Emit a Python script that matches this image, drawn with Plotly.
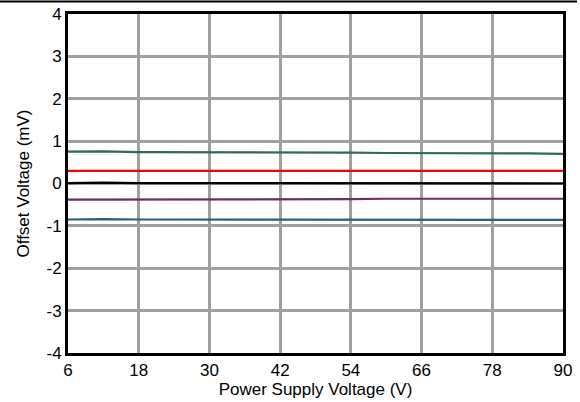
import plotly.graph_objects as go

supply_v = [6, 12, 18, 24, 30, 36, 42, 48, 54, 60, 66, 72, 78, 84, 90]
green = [0.75, 0.76, 0.74, 0.74, 0.74, 0.74, 0.73, 0.73, 0.73, 0.72, 0.72, 0.72, 0.71, 0.71, 0.70]
red = [0.30, 0.30, 0.30, 0.30, 0.30, 0.30, 0.30, 0.30, 0.30, 0.30, 0.30, 0.30, 0.30, 0.30, 0.30]
black = [0.01, 0.02, 0.01, 0.01, 0.01, 0.01, 0.01, 0.01, 0.01, 0.01, 0.00, 0.00, 0.00, 0.00, 0.00]
purple = [-0.38, -0.38, -0.38, -0.38, -0.37, -0.37, -0.37, -0.37, -0.37, -0.36, -0.36, -0.36, -0.36, -0.36, -0.36]
blue = [-0.85, -0.84, -0.85, -0.85, -0.85, -0.85, -0.85, -0.85, -0.85, -0.85, -0.85, -0.86, -0.86, -0.86, -0.86]

series = [
    (green, "#2C6E4E"),
    (red, "#FF0000"),
    (black, "#000000"),
    (purple, "#6A2D68"),
    (blue, "#2D5F7C"),
]

fig = go.Figure()
for ys, col in series:
    fig.add_trace(go.Scatter(x=supply_v, y=ys, mode="lines",
                             line=dict(color=col, width=2.2), showlegend=False))

L, R, T, B = 68, 17, 14, 49
W, H = 580, 402
pw, ph = W - L - R, H - T - B

font_family = "Liberation Sans, Arial, sans-serif"
fig.update_layout(
    width=W, height=H,
    margin=dict(l=L, r=R, t=T, b=B, autoexpand=False),
    paper_bgcolor="white", plot_bgcolor="white",
    font=dict(family=font_family, color="black", size=16),
    xaxis=dict(range=[6, 90], tickvals=[6, 18, 30, 42, 54, 66, 78, 90],
               showgrid=True, gridcolor="#A0A0A0", gridwidth=2.5,
               showline=True, linecolor="black", linewidth=3, mirror=True,
               ticks="", tickfont=dict(size=17), zeroline=False,
               title=dict(text="Power Supply Voltage (V)", font=dict(size=17), standoff=4)),
    yaxis=dict(range=[-4, 4], tickvals=[-4, -3, -2, -1, 0, 1, 2, 3, 4],
               ticktext=["-4", "-3", "-2", "-1", "0", "1", "2", "3", "4"],
               showgrid=True, gridcolor="#A0A0A0", gridwidth=2.5,
               showline=True, linecolor="black", linewidth=3, mirror=True,
               ticks="", tickfont=dict(size=17), zeroline=False,
               title=dict(text="Offset Voltage (mV)", font=dict(size=17), standoff=13)),
    shapes=[dict(type="line", xref="paper", yref="paper", x0=-L / pw, x1=(W - 3 - L) / pw,
                 y0=1 + (T - 1.5) / ph, y1=1 + (T - 1.5) / ph, layer="above",
                 line=dict(color="black", width=2))],
)

fig.write_html("out.html", config={"displayModeBar": False},
               post_script="document.body.style.margin='0';")
